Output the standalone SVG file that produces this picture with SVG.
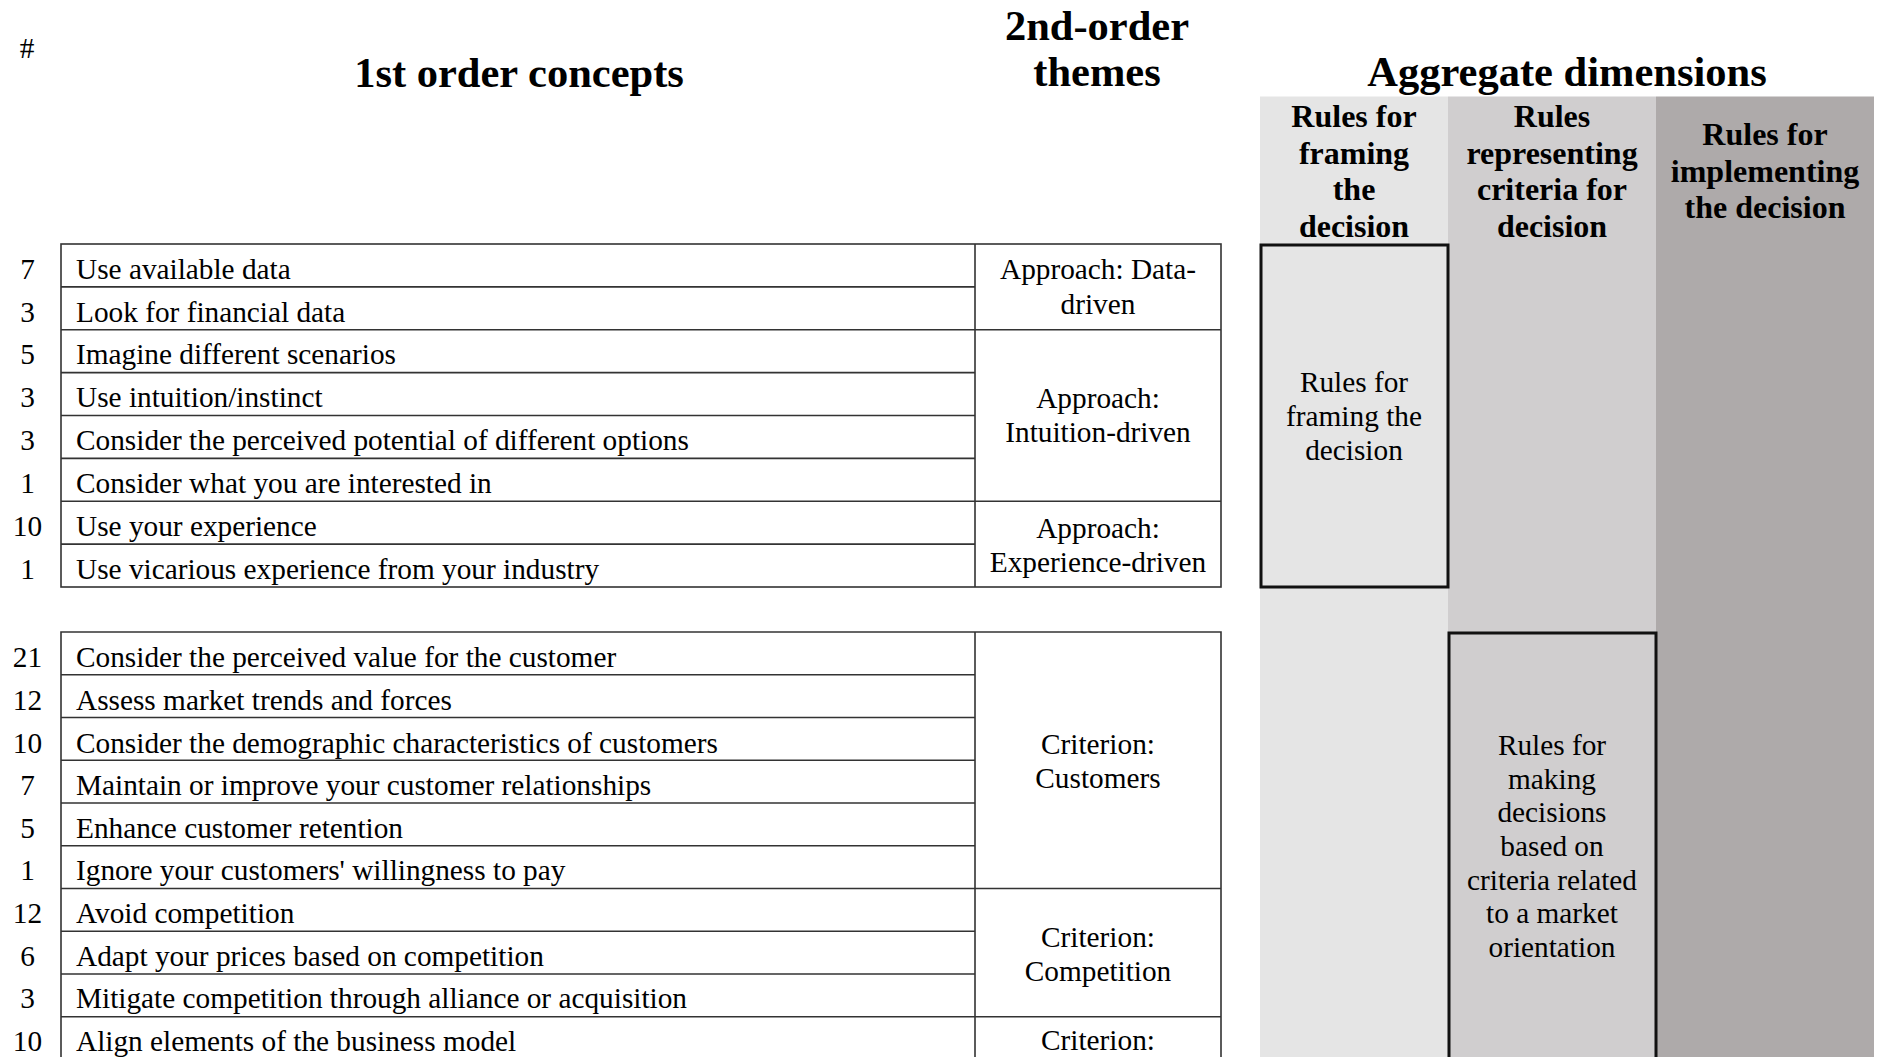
<svg xmlns="http://www.w3.org/2000/svg" width="1881" height="1057" viewBox="0 0 1881 1057">
<style>
text{font-family:"Liberation Serif","Times New Roman",serif;fill:#000}
.h{font-size:42.5px;font-weight:bold;text-anchor:middle}
.ch{font-size:32px;font-weight:bold;text-anchor:middle}
.n{font-size:29.3px;text-anchor:middle}
.t{font-size:29.3px}
.c{font-size:29.3px;text-anchor:middle}
.g{stroke:#333;stroke-width:1.6;fill:none}
.box{stroke:#111;stroke-width:3}
</style>
<rect width="1881" height="1057" fill="#fff"/>
<g id="columns">
<rect x="1260" y="96.5" width="188" height="961" fill="#e5e5e5"/>
<rect x="1448" y="96.5" width="208" height="961" fill="#d0cecf"/>
<rect x="1656" y="96.5" width="218" height="961" fill="#aeaaaa"/>
</g>
<g id="headers">
<text x="27" y="58" class="n">#</text>
<text x="519" y="87" class="h">1st order concepts</text>
<text x="1097" y="40" class="h">2nd-order</text>
<text x="1097" y="86" class="h">themes</text>
<text x="1567" y="86" class="h">Aggregate dimensions</text>
<text class="ch" x="1354"><tspan x="1354" y="127">Rules for</tspan><tspan x="1354" y="163.5">framing</tspan><tspan x="1354" y="200">the</tspan><tspan x="1354" y="236.5">decision</tspan></text>
<text class="ch" x="1552"><tspan x="1552" y="127">Rules</tspan><tspan x="1552" y="163.5">representing</tspan><tspan x="1552" y="200">criteria for</tspan><tspan x="1552" y="236.5">decision</tspan></text>
<text class="ch" x="1765"><tspan x="1765" y="145.3">Rules for</tspan><tspan x="1765" y="181.8">implementing</tspan><tspan x="1765" y="218.3">the decision</tspan></text>
</g>
<g id="connectors">
<rect class="g" x="61" y="244" width="1160" height="343"/>
<path class="g" d="M975 244V587M61 286.9H975M61 329.75H1221M61 372.6H975M61 415.5H975M61 458.4H975M61 501.25H1221M61 544.1H975"/>
<path class="g" d="M61 1060V632H1221V1060M975 632V1060M61 674.75H975M61 717.5H975M61 760.25H975M61 803H975M61 845.75H975M61 888.5H1221M61 931.25H975M61 974H975M61 1016.75H1221"/>
</g>
<g id="concepts-1">
<text class="n" x="27.5" y="278.6">7</text><text class="t" x="76" y="278.6">Use available data</text>
<text class="n" x="27.5" y="321.5">3</text><text class="t" x="76" y="321.5">Look for financial data</text>
<text class="n" x="27.5" y="364.3">5</text><text class="t" x="76" y="364.3">Imagine different scenarios</text>
<text class="n" x="27.5" y="407.2">3</text><text class="t" x="76" y="407.2">Use intuition/instinct</text>
<text class="n" x="27.5" y="450.1">3</text><text class="t" x="76" y="450.1">Consider the perceived potential of different options</text>
<text class="n" x="27.5" y="493">1</text><text class="t" x="76" y="493">Consider what you are interested in</text>
<text class="n" x="27.5" y="535.8">10</text><text class="t" x="76" y="535.8">Use your experience</text>
<text class="n" x="27.5" y="578.7">1</text><text class="t" x="76" y="578.7">Use vicarious experience from your industry</text>
</g>
<g id="concepts-2">
<text class="n" x="27.5" y="667">21</text><text class="t" x="76" y="667">Consider the perceived value for the customer</text>
<text class="n" x="27.5" y="709.7">12</text><text class="t" x="76" y="709.7">Assess market trends and forces</text>
<text class="n" x="27.5" y="752.5">10</text><text class="t" x="76" y="752.5">Consider the demographic characteristics of customers</text>
<text class="n" x="27.5" y="795">7</text><text class="t" x="76" y="795">Maintain or improve your customer relationships</text>
<text class="n" x="27.5" y="838">5</text><text class="t" x="76" y="838">Enhance customer retention</text>
<text class="n" x="27.5" y="880.3">1</text><text class="t" x="76" y="880.3">Ignore your customers' willingness to pay</text>
<text class="n" x="27.5" y="923.2">12</text><text class="t" x="76" y="923.2">Avoid competition</text>
<text class="n" x="27.5" y="965.7">6</text><text class="t" x="76" y="965.7">Adapt your prices based on competition</text>
<text class="n" x="27.5" y="1008.4">3</text><text class="t" x="76" y="1008.4">Mitigate competition through alliance or acquisition</text>
<text class="n" x="27.5" y="1050.5">10</text><text class="t" x="76" y="1050.5">Align elements of the business model</text>
</g>
<g id="theme-data"><text class="c"><tspan x="1098" y="279">Approach: Data-</tspan><tspan x="1098" y="313.5">driven</tspan></text></g>
<g id="theme-intuition"><text class="c"><tspan x="1098" y="407.5">Approach:</tspan><tspan x="1098" y="442">Intuition-driven</tspan></text></g>
<g id="theme-experience"><text class="c"><tspan x="1098" y="537.5">Approach:</tspan><tspan x="1098" y="572">Experience-driven</tspan></text></g>
<g id="theme-customers"><text class="c"><tspan x="1098" y="754">Criterion:</tspan><tspan x="1098" y="788">Customers</tspan></text></g>
<g id="theme-competition"><text class="c"><tspan x="1098" y="946.5">Criterion:</tspan><tspan x="1098" y="980.5">Competition</tspan></text></g>
<g id="theme-criterion"><text class="c" x="1098" y="1050">Criterion:</text></g>
<g id="agg-framing">
<rect class="box" x="1261" y="245" width="187" height="342" fill="#e5e5e5"/>
<text class="c"><tspan x="1354" y="392">Rules for</tspan><tspan x="1354" y="426">framing the</tspan><tspan x="1354" y="460">decision</tspan></text>
</g>
<g id="agg-criteria">
<rect class="box" x="1449" y="633" width="207" height="440" fill="#d0cecf"/>
<text class="c"><tspan x="1552" y="755">Rules for</tspan><tspan x="1552" y="788.7">making</tspan><tspan x="1552" y="822.3">decisions</tspan><tspan x="1552" y="856">based on</tspan><tspan x="1552" y="889.7">criteria related</tspan><tspan x="1552" y="923.3">to a market</tspan><tspan x="1552" y="957">orientation</tspan></text>
</g>
</svg>
